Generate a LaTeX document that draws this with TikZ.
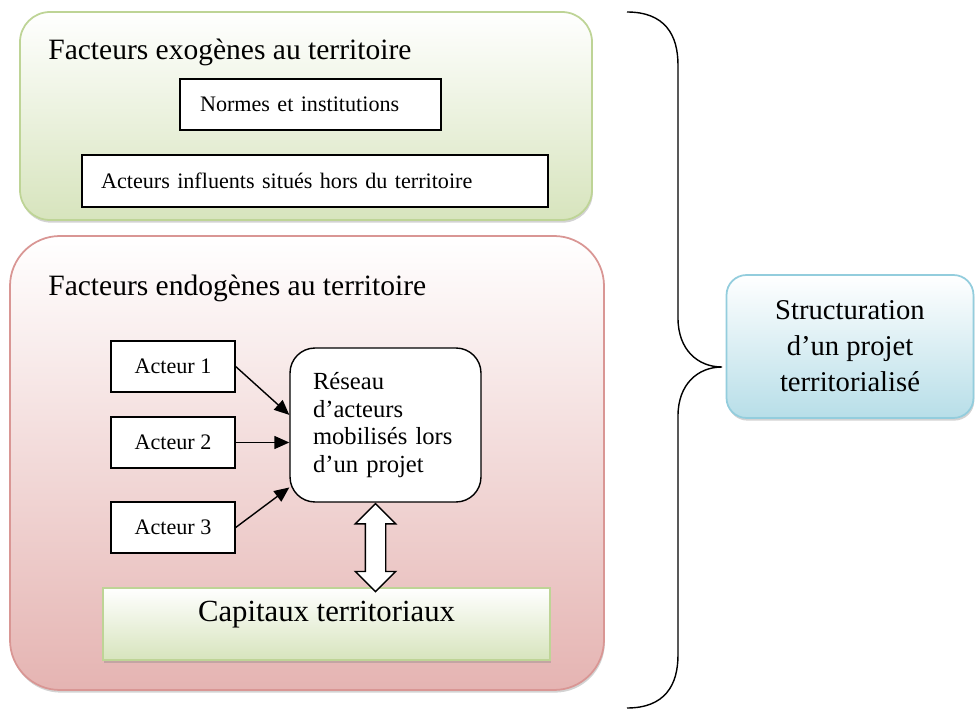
\documentclass[tikz,border=0pt]{standalone}
\usepackage{fontspec}
\setmainfont{Liberation Serif}
\usetikzlibrary{arrows.meta,shapes.arrows,shadows,fit}
\definecolor{exoline}{RGB}{190,212,150}
\definecolor{exofill}{RGB}{215,228,189}
\definecolor{endoline}{RGB}{217,150,148}
\definecolor{endofill}{RGB}{229,180,178}
\definecolor{structline}{RGB}{147,205,221}
\definecolor{structfill}{RGB}{183,222,232}
\tikzset{
  zone/.style={draw, line width=1pt, inner sep=0pt, top color=white, drop shadow={opacity=0.35, shadow xshift=0.5pt, shadow yshift=-1.5pt}},
  titre/.style={inner sep=0pt, anchor=base west, font=\fontsize{16.8}{20}\selectfont},
  boite/.style={draw, fill=white, line width=0.8pt, inner sep=0pt, font=\fontsize{12.6}{15}\selectfont},
  arr/.style={-{Triangle[length=0.3cm, width=0.26cm]}, line width=0.8pt},
  fleche/.style={double arrow, draw, fill=white, line width=0.8pt, inner xsep=0pt, inner ysep=0.19cm, minimum width=0.8cm, minimum height=1.76cm, double arrow head extend=0.2cm, double arrow head indent=0pt},
  accolade/.style={line width=0.8pt}
}
\begin{document}
\begin{tikzpicture}[x=0.02cm, y=-0.02cm]
\useasboundingbox (0,0) rectangle (975,713);
\node[zone, draw=exoline, bottom color=exofill, rounded corners=0.6cm, fit={(20,12) (592,220)}] (exo) {};
\node[zone, draw=endoline, bottom color=endofill, rounded corners=1cm, fit={(10,236) (604,690)}] (endo) {};
\node[titre] (exotitre) at (48,60) {Facteurs exogènes au territoire};
\node[titre] (endotitre) at (48,296) {Facteurs endogènes au territoire};
\node[boite, minimum width=5.22cm, minimum height=1.02cm, text width=4.42cm, align=left] (normes) at (310.5,104.5) {Normes et institutions};
\node[boite, minimum width=9.32cm, minimum height=1.04cm, text width=8.56cm, align=left] (influents) at (315,181) {Acteurs influents situés hors du territoire};
\node[boite, minimum width=2.48cm, minimum height=1.02cm] (acteur1) at (173,366.5) {Acteur 1};
\node[boite, minimum width=2.48cm, minimum height=1.02cm] (acteur2) at (173,442.5) {Acteur 2};
\node[boite, minimum width=2.48cm, minimum height=1.02cm] (acteur3) at (173,527.5) {Acteur 3};
\node[boite, rounded corners=0.5cm, minimum width=3.82cm, minimum height=3.08cm, text width=2.9cm, align=left, font=\fontsize{14}{15.6}\selectfont] (reseau) at (385.5,425) {Réseau\\d’acteurs\\mobilisés lors\\d’un projet};
\node[zone, draw=exoline, bottom color=exofill, minimum width=8.94cm, minimum height=1.44cm, text depth=0.5cm, font=\fontsize{17.5}{20}\selectfont] (capitaux) at (326.5,624) {Capitaux territoriaux};
\node[zone, draw=structline, bottom color=structfill, rounded corners=0.4cm, minimum width=4.94cm, minimum height=2.86cm, align=center, font=\fontsize{16.3}{20.5}\selectfont] (struct) at (850,346.5) {Structuration\\d’un projet\\territorialisé};
\draw[arr](acteur1.east) -- (reseau.174);
\draw[arr](acteur2.east) -- (acteur2.east -| reseau.west);
\draw[arr](acteur3.east) -- (reseau.213);
\node[fleche, rotate=-90, anchor=west] (lien) at ([xshift=-0.2cm]reseau.south) {};
\coordinate (haut) at (627,12);
\coordinate (pointe) at (722,367);
\coordinate (bas) at (627,708);
\draw[accolade](haut) .. controls (665,12) and (678,35) .. (678,65) -- (678,318) .. controls (678,350) and (698,367) .. (pointe) .. controls (698,367) and (678,384) .. (678,416) -- (678,655) .. controls (678,685) and (665,708) .. (bas);
\end{tikzpicture}
\end{document}
